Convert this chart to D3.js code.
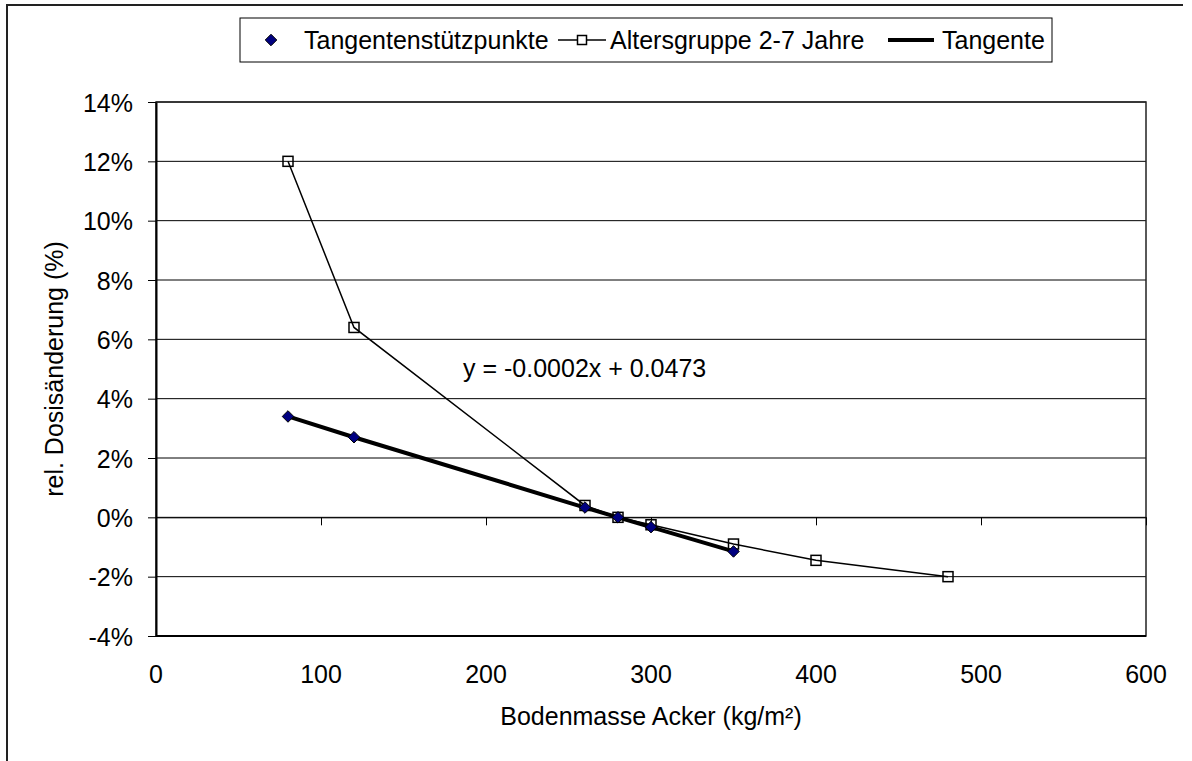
<!DOCTYPE html>
<html>
<head>
<meta charset="utf-8">
<script src="https://cdn.jsdelivr.net/npm/d3@7"></script>
<style>
  html, body { margin: 0; padding: 0; background: #fff; }
  svg { display: block; font-family: "Liberation Sans", Arial, sans-serif; }
</style>
</head>
<body>
<svg id="chart" width="1192" height="761"></svg>
<script>
// ---- data ----
const xTicks = [0, 100, 200, 300, 400, 500, 600];
const yTicks = [-0.04, -0.02, 0, 0.02, 0.04, 0.06, 0.08, 0.10, 0.12, 0.14];
const altersX = [80, 120, 260, 280, 300, 350, 400, 480];
const altersY = [0.12, 0.064, 0.004, 0.0, -0.0025, -0.009, -0.0145, -0.02];
const stuetzX = [80, 120, 260, 280, 300, 350];
const stuetzY = [0.034, 0.027, 0.0033, 0.0, -0.0033, -0.0115];
const tangenteX = [80, 120, 260, 280, 300, 350];
const tangenteY = [0.034, 0.027, 0.0033, 0.0, -0.0033, -0.0115];
const seriesNames = ["Tangentenstützpunkte", "Altersgruppe 2-7 Jahre", "Tangente"];
const equationText = "y = -0.0002x + 0.0473";
const xTitle = "Bodenmasse Acker (kg/m²)";
const yTitle = "rel. Dosisänderung (%)";

// ---- layout ----
const svg = d3.select("#chart");
const L = 156, R = 1146, T = 102, B = 636;
const FS = 25;
const x = d3.scaleLinear().domain([0, 600]).range([L, R]);
const y = d3.scaleLinear().domain([-0.04, 0.14]).range([B, T]);
const pct = d => d3.format(".0%")(d).replace("\u2212", "-");

// outer chart border (cropped)
svg.append("path")
  .attr("d", `M7,770 L7,5 L1183,5`)
  .attr("fill", "none").attr("stroke", "#222").attr("stroke-width", 2);

// gridlines
svg.append("g").selectAll("line").data(yTicks).join("line")
  .attr("x1", L).attr("x2", R)
  .attr("y1", d => y(d)).attr("y2", d => y(d))
  .attr("stroke", "#000").attr("stroke-width", 1);

// plot border
svg.append("rect").attr("x", L).attr("y", T).attr("width", R - L).attr("height", B - T)
  .attr("fill", "none").attr("stroke", "#222").attr("stroke-width", 1.5);

// y axis
const yAxis = d3.axisLeft(y).tickValues(yTicks).tickFormat(pct).tickSize(8).tickSizeOuter(0);
const gy = svg.append("g").attr("transform", `translate(${L},0)`).call(yAxis);
gy.select(".domain").attr("stroke", "#000").attr("stroke-width", 2);
gy.selectAll(".tick line").attr("stroke", "#000");
gy.selectAll(".tick text").attr("font-size", FS).attr("fill", "#000")
  .attr("font-family", "Liberation Sans, Arial, sans-serif")
  .attr("x", -23).attr("dy", "0.36em");

// x axis at y=0 with downward ticks, labels at bottom
const xAxis = d3.axisBottom(x).tickValues(xTicks).tickFormat("").tickSize(8).tickSizeOuter(0);
const gx = svg.append("g").attr("transform", `translate(0,${y(0)})`).call(xAxis);
gx.select(".domain").attr("stroke", "#000").attr("stroke-width", 1);
gx.selectAll(".tick line").attr("stroke", "#000");
svg.append("g").selectAll("text").data(xTicks).join("text")
  .attr("x", d => x(d)).attr("y", 683)
  .attr("text-anchor", "middle").attr("font-size", FS).attr("fill", "#000")
  .text(d => d);

// bottom axis line thicker
svg.append("line").attr("x1", L).attr("x2", R).attr("y1", B).attr("y2", B)
  .attr("stroke", "#000").attr("stroke-width", 2);

// axis titles
svg.append("text").attr("x", (L + R) / 2).attr("y", 725)
  .attr("text-anchor", "middle").attr("font-size", FS).attr("fill", "#000").text(xTitle);
svg.append("text").attr("transform", `translate(63,${(T + B) / 2}) rotate(-90)`)
  .attr("text-anchor", "middle").attr("font-size", FS).attr("fill", "#000").text(yTitle);

// series lines
const line = d3.line().x(d => x(d[0])).y(d => y(d[1]));
const alters = altersX.map((v, i) => [v, altersY[i]]);
const stuetz = stuetzX.map((v, i) => [v, stuetzY[i]]);
const tang = tangenteX.map((v, i) => [v, tangenteY[i]]);

svg.append("path").datum(alters).attr("d", line)
  .attr("fill", "none").attr("stroke", "#000").attr("stroke-width", 1.5);
svg.append("path").datum(tang).attr("d", line)
  .attr("fill", "none").attr("stroke", "#000").attr("stroke-width", 4);

// square markers
const sq = 10;
svg.append("g").selectAll("rect").data(alters).join("rect")
  .attr("x", d => x(d[0]) - sq / 2).attr("y", d => y(d[1]) - sq / 2)
  .attr("width", sq).attr("height", sq)
  .attr("fill", "none").attr("stroke", "#000").attr("stroke-width", 1.5);

// diamond markers
const diamond = d3.symbol().type(d3.symbolDiamond2).size(85);
svg.append("g").selectAll("path").data(stuetz).join("path")
  .attr("d", diamond)
  .attr("transform", d => `translate(${x(d[0])},${y(d[1])})`)
  .attr("fill", "#000080").attr("stroke", "#000").attr("stroke-width", 1);

// equation label
svg.append("text").attr("x", 463).attr("y", 377)
  .attr("font-size", FS).attr("fill", "#000").text(equationText);

// legend
const lg = svg.append("g");
lg.append("rect").attr("x", 240).attr("y", 18).attr("width", 812).attr("height", 44)
  .attr("fill", "#fff").attr("stroke", "#000").attr("stroke-width", 1);
const ly = 40, lb = 49;
lg.append("path").attr("d", diamond)
  .attr("transform", `translate(271,${ly})`)
  .attr("fill", "#000080").attr("stroke", "#000").attr("stroke-width", 1);
lg.append("text").attr("x", 304).attr("y", lb).attr("font-size", FS).text(seriesNames[0]);
lg.append("line").attr("x1", 558).attr("x2", 606).attr("y1", ly).attr("y2", ly)
  .attr("stroke", "#000").attr("stroke-width", 1.5);
lg.append("rect").attr("x", 582 - 4.5).attr("y", ly - 4.5).attr("width", 9).attr("height", 9)
  .attr("fill", "#fff").attr("stroke", "#000").attr("stroke-width", 1.5);
lg.append("text").attr("x", 610).attr("y", lb).attr("font-size", FS).text(seriesNames[1]);
lg.append("line").attr("x1", 888).attr("x2", 934).attr("y1", ly).attr("y2", ly)
  .attr("stroke", "#000").attr("stroke-width", 4);
lg.append("text").attr("x", 942).attr("y", lb).attr("font-size", FS).text(seriesNames[2]);
</script>
</body>
</html>
